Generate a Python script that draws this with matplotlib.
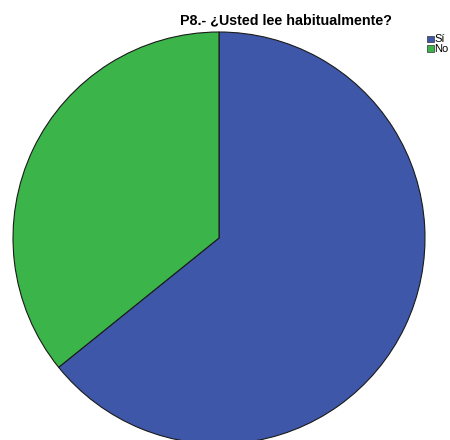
import matplotlib
matplotlib.use('Agg')
import matplotlib.pyplot as plt
from matplotlib.patches import Rectangle

labels = ['Sí', 'No']
values = [64.2, 35.8]
colors = ['#3e57a9', '#3bb54a']

W, H = 450, 440
fig = plt.figure(figsize=(4.5, 4.4), dpi=100)
ax = fig.add_axes([0, 0, 1, 1])

# pie in pixel coords (y up)
ax.pie(values, colors=colors, startangle=90, counterclock=False,
       center=(219, H - 238), radius=206,
       wedgeprops={'edgecolor': '#1a1a1a', 'linewidth': 0.8})
ax.set_xlim(0, W)
ax.set_ylim(0, H)
ax.set_aspect('auto')
ax.axis('off')

ax.text(286.5, H - 20, 'P8.- ¿Usted lee habitualmente?', ha='center', va='center',
        fontsize=10.3, fontweight='bold', family='Liberation Sans')

# legend
for i, (lab, col) in enumerate(zip(labels, colors)):
    y = H - 39 - i * 9.5
    ax.add_patch(Rectangle((427, y - 3.2), 6.5, 6.5, facecolor=col,
                           edgecolor='#333333', linewidth=0.5))
    ax.text(434.5, y, lab, ha='left', va='center', fontsize=8,
            family='Liberation Sans')

fig.savefig('out.png', dpi=100)
